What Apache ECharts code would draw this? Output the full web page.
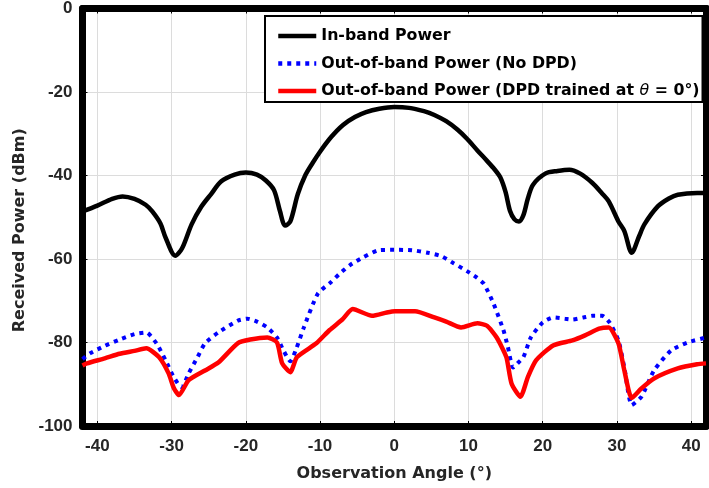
<!DOCTYPE html>
<html>
<head>
<meta charset="utf-8">
<script src="https://cdn.jsdelivr.net/npm/echarts@6/dist/echarts.min.js"></script>
<style>
html,body{margin:0;padding:0;background:#fff;}
#chart{width:709px;height:488px;}
</style>
</head>
<body>
<div id="chart"></div>
<script>
// ---- data ----
const seriesNames = ['In-band Power', 'Out-of-band Power (No DPD)', 'Out-of-band Power (DPD trained at θ = 0°)'];

const inbandAngle = [-42,-40,-38,-36.6,-35,-33.5,-32.6,-31.5,-30.8,-29.5,-28.6,-27.3,-26,-24.7,-23.3,-21.5,-20,-18.5,-17.3,-16.2,-15.4,-14.7,-14,-13,-12,-11,-10,-8.5,-6.9,-5.3,-3.8,-2,0,2,4,5.4,7,8.5,9.8,11.2,12.5,13.5,14.3,15,15.6,16.2,16.8,17.4,18,18.7,20.4,22,23.6,25,26.7,28,28.9,30.2,31,32,33,33.7,35.5,37,38.2,40.8,42];
const inbandPower = [-48.6,-47.2,-45.6,-45,-45.6,-47,-48.6,-51.5,-54.9,-59.2,-57.5,-51.7,-47.5,-44.5,-41.4,-39.8,-39.3,-39.8,-41.2,-43.5,-48.5,-52,-51,-44.5,-40,-37,-34.3,-30.8,-27.9,-26,-24.8,-24,-23.6,-23.8,-24.6,-25.5,-27,-29,-31.2,-34,-36.5,-38.5,-40.5,-44,-48.5,-50.5,-51,-49.5,-45.5,-42.2,-39.5,-38.9,-38.6,-39.5,-41.8,-44.3,-46.2,-51,-53.3,-58.5,-54.5,-51.7,-47.4,-45.5,-44.6,-44.2,-44.2];

const noDpdAngle = [-42,-41,-39,-37,-35,-33.4,-32,-30.8,-29.8,-29,-28.6,-27.7,-26.5,-25.5,-23.7,-21.1,-19.8,-18.5,-17.1,-15.8,-14.9,-14,-13.2,-12.2,-10.3,-8.5,-7.4,-6,-4.3,-2.1,0,2.4,4.5,6.3,8,9.8,11,12.1,13.4,14.7,15.3,16,16.6,17.4,18.4,20,21.4,23,24,25.5,26.7,28,29,30.2,31,32,33.3,35,37.3,39.5,42];
const noDpdPower = [-84,-82.6,-80.8,-79.3,-78,-77.6,-80.3,-84.3,-88,-90.2,-90.7,-87.4,-83.5,-80.2,-77.6,-74.8,-74.3,-75,-76.4,-78.8,-82,-84.5,-81.5,-76.5,-68.3,-65.5,-63.6,-61.5,-59.7,-57.9,-57.8,-57.9,-58.5,-59.3,-61,-62.9,-64.3,-66,-70.8,-77,-81,-86,-85,-83.5,-78.8,-75.2,-74,-74.3,-74.5,-74,-73.6,-73.6,-75.2,-79.5,-86,-95,-93,-86.7,-81.9,-80,-78.8];

const dpdAngle = [-42,-41.4,-39,-37,-35,-33.4,-31.7,-30.4,-29.7,-29,-27.7,-25.5,-23.7,-21.1,-19.4,-17.1,-15.8,-15.1,-14,-13.1,-10.5,-8.7,-7,-5.6,-3,-1,0.1,2.8,5.4,7,9,11.2,12.5,13.8,15.1,15.8,17,18,19.1,21.4,24,25.7,27.6,28.9,30.2,31,32,33.3,35,38.2,40.8,42];
const dpdPower = [-85.5,-85,-83.8,-82.7,-82,-81.4,-83.5,-87.4,-90.9,-92.6,-89,-86.7,-84.8,-80.2,-79.3,-78.8,-80,-85,-87.1,-83.5,-80.2,-77,-74.5,-72,-73.6,-72.8,-72.5,-72.5,-74,-75,-76.4,-75.4,-76,-78.8,-83.5,-89.8,-93,-88.3,-84.3,-80.7,-79.5,-78.3,-76.7,-76.4,-80.2,-86.7,-93.3,-91,-88.6,-86.2,-85.2,-85];

const xTickValues = [-40,-30,-20,-10,0,10,20,30,40];
const yTickValues = [0,-20,-40,-60,-80,-100];

// ---- build chart ----
const pairs = (xs, ys) => xs.map((x, i) => [x, ys[i]]);
const FONT = '"DejaVu Sans", "Liberation Sans", Arial, sans-serif';
const TICKFONT = '"Liberation Sans", Arial, sans-serif';
const labelColor = '#262626';

const chart = echarts.init(document.getElementById('chart'), null, {renderer: 'canvas'});

const baseX = {
  type: 'value', min: -42, max: 42, splitNumber: 8,
  axisLine: {show: true, onZero: false, lineStyle: {color: '#000', width: 7}},
  axisTick: {show: true, inside: true, length: 5, lineStyle: {color: '#000', width: 1}},
  splitLine: {show: false},
  axisLabel: {show: false}
};
const baseY = {
  type: 'value', min: -100, max: 0, interval: 20,
  axisLine: {show: true, onZero: false, lineStyle: {color: '#000', width: 7}},
  axisTick: {show: true, inside: true, length: 5, lineStyle: {color: '#000', width: 1}},
  splitLine: {show: false},
  axisLabel: {show: false}
};

const option = {
  animation: false,
  backgroundColor: '#fff',
  textStyle: {fontFamily: FONT},
  grid: {left: 82.5, top: 6.5, width: 633, height: 419.5, containLabel: false},
  legend: {
    show: true,
    left: 265, top: 16,
    orient: 'vertical',
    backgroundColor: '#fff',
    borderColor: '#000', borderWidth: 2,
    padding: [12, 3, 3, 11],
    itemGap: 11.5,
    itemWidth: 38, itemHeight: 16,
    itemStyle: {color: 'rgba(0,0,0,0)', borderWidth: 0, opacity: 0},
    lineStyle: {width: 4.5},
    textStyle: {
      fontFamily: FONT, fontSize: 15.8, fontWeight: 'bold', color: '#000',
      rich: {i: {fontFamily: FONT, fontSize: 15.8, fontStyle: 'italic', fontWeight: 'normal', color: '#000'}}
    },
    formatter: (name) => name.replace('θ', '{i|θ}'),
    data: seriesNames
  },
  xAxis: [
    Object.assign({}, baseX, {
      position: 'bottom',
      splitLine: {show: true, lineStyle: {color: '#dcdcdc', width: 1}},
      axisLabel: {
        show: true, margin: 12, color: labelColor, fontFamily: TICKFONT, fontSize: 17, fontWeight: 'bold',
        formatter: (v) => (xTickValues.indexOf(v) >= 0 ? String(v) : '')
      },
      name: 'Observation Angle (°)', nameLocation: 'middle', nameGap: 40,
      nameTextStyle: {color: labelColor, fontFamily: FONT, fontSize: 16, fontWeight: 'bold'}
    }),
    Object.assign({}, baseX, {position: 'top'})
  ],
  yAxis: [
    Object.assign({}, baseY, {
      position: 'left',
      splitLine: {show: true, lineStyle: {color: '#dcdcdc', width: 1}},
      axisLabel: {
        show: true, margin: 10, color: labelColor, fontFamily: TICKFONT, fontSize: 17, fontWeight: 'bold',
        padding: [8, 0, 0, 0],
        formatter: (v) => (yTickValues.indexOf(v) >= 0 ? String(v) : '')
      },
      name: 'Received Power (dBm)', nameLocation: 'middle', nameGap: 50,
      nameTextStyle: {color: labelColor, fontFamily: FONT, fontSize: 16, fontWeight: 'bold', padding: [0, 26, 0, 0]}
    }),
    Object.assign({}, baseY, {position: 'right'})
  ],
  series: [
    {
      name: seriesNames[0], type: 'line', data: pairs(inbandAngle, inbandPower),
      showSymbol: false, symbol: 'none', smooth: 0.3, clip: true,
      lineStyle: {color: '#000', width: 4.5}, itemStyle: {color: '#000'}, z: 3
    },
    {
      name: seriesNames[1], type: 'line', data: pairs(noDpdAngle, noDpdPower),
      showSymbol: false, symbol: 'none', smooth: 0.2, clip: true,
      lineStyle: {color: '#0000ff', width: 4, type: [4, 5], cap: 'butt'}, itemStyle: {color: '#0000ff'}, z: 2
    },
    {
      name: seriesNames[2], type: 'line', data: pairs(dpdAngle, dpdPower),
      showSymbol: false, symbol: 'none', smooth: 0.2, clip: true,
      lineStyle: {color: '#ff0000', width: 4.5}, itemStyle: {color: '#ff0000'}, z: 4
    }
  ]
};
chart.setOption(option);
</script>
</body>
</html>
